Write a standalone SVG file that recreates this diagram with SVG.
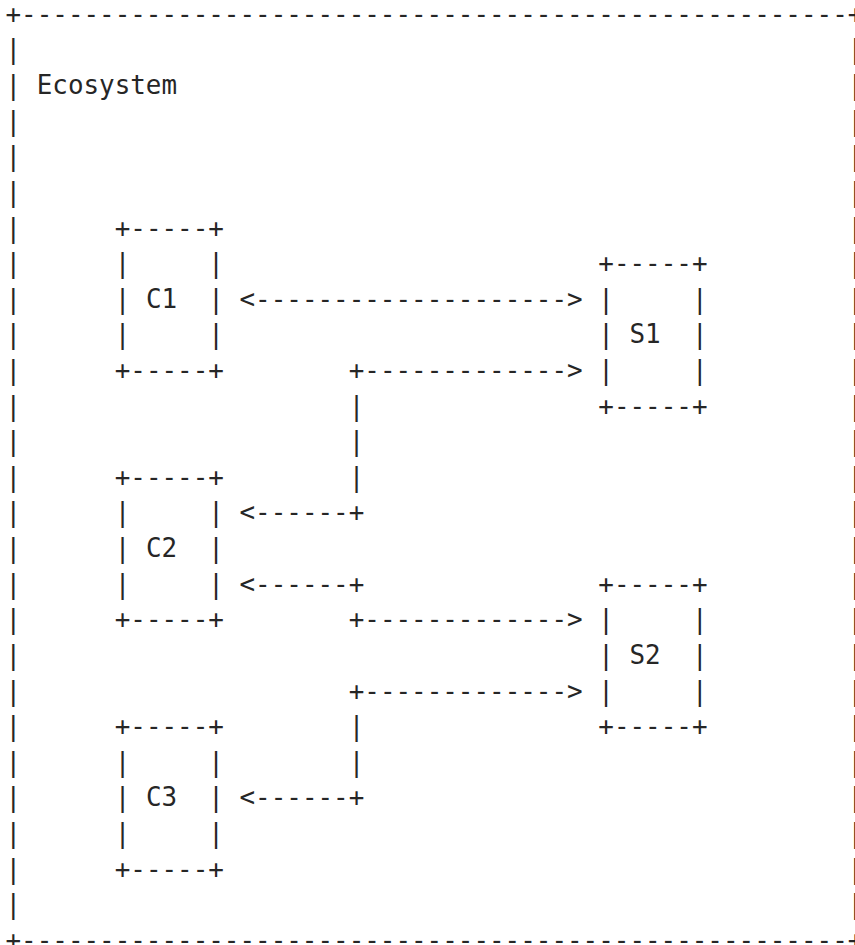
<svg xmlns="http://www.w3.org/2000/svg" width="855" height="945" viewBox="0 0 855 945" xml:space="preserve">
<style>
text { font-family: "DejaVu Sans Mono", "Liberation Mono", monospace; font-size: 25.91px; fill: #262626; white-space: pre; }
</style>
<rect x="0" y="0" width="855" height="945" fill="#ffffff"/>
<g id="ecosystem">
<text x="5.5" y="22.8">+-----------------------------------------------------+</text>
<text x="5.5" y="948.92">+-----------------------------------------------------+</text>
<text x="36.7" y="94.04">Ecosystem</text>
<text><tspan x="5.5" y="58.42">|</tspan><tspan x="5.5" y="94.04">|</tspan><tspan x="5.5" y="129.66">|</tspan><tspan x="5.5" y="165.28">|</tspan><tspan x="5.5" y="200.9">|</tspan><tspan x="5.5" y="236.52">|</tspan><tspan x="5.5" y="272.14">|</tspan><tspan x="5.5" y="307.76">|</tspan><tspan x="5.5" y="343.38">|</tspan><tspan x="5.5" y="379">|</tspan><tspan x="5.5" y="414.62">|</tspan><tspan x="5.5" y="450.24">|</tspan><tspan x="5.5" y="485.86">|</tspan><tspan x="5.5" y="521.48">|</tspan><tspan x="5.5" y="557.1">|</tspan><tspan x="5.5" y="592.72">|</tspan><tspan x="5.5" y="628.34">|</tspan><tspan x="5.5" y="663.96">|</tspan><tspan x="5.5" y="699.58">|</tspan><tspan x="5.5" y="735.2">|</tspan><tspan x="5.5" y="770.82">|</tspan><tspan x="5.5" y="806.44">|</tspan><tspan x="5.5" y="842.06">|</tspan><tspan x="5.5" y="877.68">|</tspan><tspan x="5.5" y="913.3">|</tspan></text>
<text><tspan x="847.4" y="58.42">|</tspan><tspan x="847.4" y="94.04">|</tspan><tspan x="847.4" y="129.66">|</tspan><tspan x="847.4" y="165.28">|</tspan><tspan x="847.4" y="200.9">|</tspan><tspan x="847.4" y="236.52">|</tspan><tspan x="847.4" y="272.14">|</tspan><tspan x="847.4" y="307.76">|</tspan><tspan x="847.4" y="343.38">|</tspan><tspan x="847.4" y="379">|</tspan><tspan x="847.4" y="414.62">|</tspan><tspan x="847.4" y="450.24">|</tspan><tspan x="847.4" y="485.86">|</tspan><tspan x="847.4" y="521.48">|</tspan><tspan x="847.4" y="557.1">|</tspan><tspan x="847.4" y="592.72">|</tspan><tspan x="847.4" y="628.34">|</tspan><tspan x="847.4" y="663.96">|</tspan><tspan x="847.4" y="699.58">|</tspan><tspan x="847.4" y="735.2">|</tspan><tspan x="847.4" y="770.82">|</tspan><tspan x="847.4" y="806.44">|</tspan><tspan x="847.4" y="842.06">|</tspan><tspan x="847.4" y="877.68">|</tspan><tspan x="847.4" y="913.3">|</tspan></text>
</g>
<g id="C1">
<text><tspan x="114.7" y="236.52">+-----+</tspan><tspan x="114.7" y="272.14">|     |</tspan><tspan x="114.7" y="307.76">| C1  |</tspan><tspan x="114.7" y="343.38">|     |</tspan><tspan x="114.7" y="379">+-----+</tspan></text>
</g>
<g id="C2">
<text><tspan x="114.7" y="485.86">+-----+</tspan><tspan x="114.7" y="521.48">|     |</tspan><tspan x="114.7" y="557.1">| C2  |</tspan><tspan x="114.7" y="592.72">|     |</tspan><tspan x="114.7" y="628.34">+-----+</tspan></text>
</g>
<g id="C3">
<text><tspan x="114.7" y="735.2">+-----+</tspan><tspan x="114.7" y="770.82">|     |</tspan><tspan x="114.7" y="806.44">| C3  |</tspan><tspan x="114.7" y="842.06">|     |</tspan><tspan x="114.7" y="877.68">+-----+</tspan></text>
</g>
<g id="S1">
<text><tspan x="598.3" y="272.14">+-----+</tspan><tspan x="598.3" y="307.76">|     |</tspan><tspan x="598.3" y="343.38">| S1  |</tspan><tspan x="598.3" y="379">|     |</tspan><tspan x="598.3" y="414.62">+-----+</tspan></text>
</g>
<g id="S2">
<text><tspan x="598.3" y="592.72">+-----+</tspan><tspan x="598.3" y="628.34">|     |</tspan><tspan x="598.3" y="663.96">| S2  |</tspan><tspan x="598.3" y="699.58">|     |</tspan><tspan x="598.3" y="735.2">+-----+</tspan></text>
</g>
<g id="connectors">
<text x="239.5" y="307.76">&lt;--------------------&gt;</text>
<text><tspan x="348.7" y="379">+-------------&gt;</tspan><tspan x="348.7" y="414.62">|</tspan><tspan x="348.7" y="450.24">|</tspan><tspan x="348.7" y="485.86">|</tspan><tspan x="239.5" y="521.48">&lt;------+</tspan></text>
<text><tspan x="239.5" y="592.72">&lt;------+</tspan><tspan x="348.7" y="628.34">+-------------&gt;</tspan></text>
<text><tspan x="348.7" y="699.58">+-------------&gt;</tspan><tspan x="348.7" y="735.2">|</tspan><tspan x="348.7" y="770.82">|</tspan><tspan x="239.5" y="806.44">&lt;------+</tspan></text>
</g>
</svg>
